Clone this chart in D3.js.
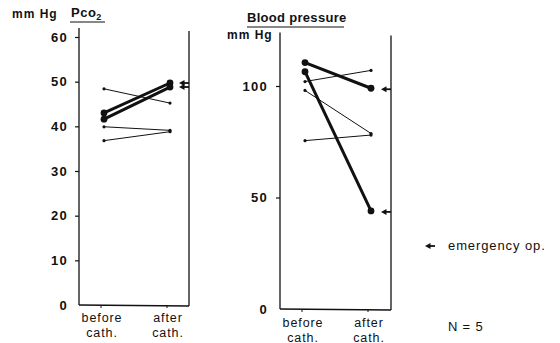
<!DOCTYPE html>
<html>
<head>
<meta charset="utf-8">
<script src="https://cdn.jsdelivr.net/npm/d3@7"></script>
<style>
  body { margin: 0; background: #fff; }
  text { font-family: "Liberation Sans", Arial, sans-serif; fill: #111; }
  .tick text { font-weight: bold; font-size: 13px; letter-spacing: 1.3px; }
</style>
</head>
<body>
<div id="chart"></div>
<script>
// categories on the x axis
var phases = ["before", "after"];
var phaseLabels = [["before", "cath."], ["after", "cath."]];

// Pco2 (mm Hg), one pair per patient
var pco2Before = [48.4, 43.0, 41.6, 39.9, 36.8];
var pco2After  = [45.2, 49.7, 48.8, 39.1, 38.8];
var pco2Emergency = [false, true, true, false, false];
var pco2Ticks = [0, 10, 20, 30, 40, 50, 60];

// blood pressure (mm Hg)
var bpBefore = [110.5, 106.4, 102, 98, 75.5];
var bpAfter  = [99, 44, 107, 78.7, 78];
var bpEmergency = [true, true, false, false, false];
var bpTicks = [0, 50, 100];

var svg = d3.select("#chart").append("svg")
  .attr("width", 560)
  .attr("height", 343);

function drawPanel(cfg){
  var g = svg.append("g");

  var y = d3.scaleLinear().domain([0, cfg.yMax]).range([cfg.bottom, cfg.top]);
  var x = d3.scalePoint().domain(phases).range([cfg.x0, cfg.x1]);

  // frame: left axis line, right line, bottom line
  g.append("line").attr("x1", cfg.left).attr("x2", cfg.left)
    .attr("y1", y(cfg.axisTop)).attr("y2", cfg.bottom)
    .attr("stroke", "#111").attr("stroke-width", 1.3);
  g.append("line").attr("x1", cfg.right).attr("x2", cfg.right)
    .attr("y1", y(cfg.axisTop) + 3).attr("y2", cfg.bottom + 1)
    .attr("stroke", "#111").attr("stroke-width", 1.3);
  g.append("line").attr("x1", cfg.left).attr("x2", cfg.right)
    .attr("y1", cfg.bottom).attr("y2", cfg.bottom + 1)
    .attr("stroke", "#111").attr("stroke-width", 1.5);

  var yAxis = g.append("g")
    .attr("transform", "translate(" + cfg.left + ",0)")
    .call(d3.axisLeft(y).tickValues(cfg.ticks).tickSize(4).tickPadding(cfg.pad).tickFormat(d3.format("d")));
  yAxis.select(".domain").remove();
  yAxis.selectAll(".tick line").attr("stroke", "#111").attr("stroke-width", 1.2);
  yAxis.selectAll(".tick").filter(function(d){ return d === 0; }).select("line").remove();

  // small ticks at the category positions
  g.selectAll(".xt").data(phases).enter().append("line")
    .attr("x1", function(d){ return x(d) - 3; })
    .attr("x2", function(d){ return x(d) - 3; })
    .attr("y1", cfg.bottom).attr("y2", cfg.bottom + 3)
    .attr("stroke", "#111");

  // two-line category labels, one text per line
  [0, 1].forEach(function(row){
    g.selectAll(".xl" + row).data(phaseLabels).enter().append("text")
      .attr("x", function(d, i){ return x(phases[i]) - 2; })
      .attr("y", cfg.bottom + cfg.labelDy + row * 14.5)
      .attr("text-anchor", "middle")
      .style("font-size", "12.5px")
      .style("letter-spacing", "0.9px")
      .text(function(d){ return d[row]; });
  });

  // patient lines
  var pairs = cfg.before.map(function(b, i){
    return {b: b, a: cfg.after[i], em: cfg.emergency[i]};
  });
  g.selectAll(".pl").data(pairs).enter().append("line")
    .attr("x1", x("before")).attr("x2", x("after"))
    .attr("y1", function(d){ return y(d.b); })
    .attr("y2", function(d){ return y(d.a); })
    .attr("stroke", "#111")
    .attr("stroke-width", function(d){ return d.em ? 3 : 1; });

  phases.forEach(function(p){
    g.selectAll(".pt-" + p).data(pairs).enter().append("circle")
      .attr("cx", x(p))
      .attr("cy", function(d){ return y(p == "before" ? d.b : d.a); })
      .attr("r", function(d){ return d.em ? 3.4 : 1.6; })
      .attr("fill", "#111");
  });

  // arrows marking emergency operations
  pairs.filter(function(d){ return d.em; }).forEach(function(d){
    drawArrow(g, x("after") + cfg.arrowDx, y(d.a) + cfg.arrowDy);
  });

  return {x: x, y: y, g: g};
}

function drawArrow(g, x0, y0){
  g.append("line").attr("x1", x0 + 3).attr("x2", x0 + 10)
    .attr("y1", y0).attr("y2", y0)
    .attr("stroke", "#111").attr("stroke-width", 1.8);
  g.append("path")
    .attr("d", "M" + x0 + "," + y0 + "L" + (x0 + 5.5) + "," + (y0 - 3) + "L" + (x0 + 5.5) + "," + (y0 + 3) + "Z")
    .attr("fill", "#111");
}

drawPanel({
  before: pco2Before, after: pco2After, emergency: pco2Emergency,
  ticks: pco2Ticks, yMax: 60, axisTop: 62,
  top: 37, bottom: 305, left: 79, right: 189,
  x0: 104, x1: 170, pad: 7, labelDy: 17,
  arrowDx: 9, arrowDy: 0
});

drawPanel({
  before: bpBefore, after: bpAfter, emergency: bpEmergency,
  ticks: bpTicks, yMax: 100, axisTop: 124,
  top: 86, bottom: 309, left: 280, right: 391,
  x0: 305, x1: 371, pad: 8, labelDy: 18,
  arrowDx: 10, arrowDy: 1
});

// titles
svg.append("text").attr("x", 12).attr("y", 18)
  .style("font-size", "12px").style("font-weight", "bold").style("letter-spacing", "1px")
  .text("mm Hg");
var pco = svg.append("text").attr("x", 71).attr("y", 17)
  .style("font-size", "13px").style("font-weight", "bold").style("letter-spacing", "0.5px");
pco.append("tspan").text("Pco");
pco.append("tspan").attr("dy", 3).style("font-size", "9px").text("2");
svg.append("line").attr("x1", 70).attr("x2", 105).attr("y1", 22).attr("y2", 22)
  .attr("stroke", "#111").attr("stroke-width", 1.2);

svg.append("text").attr("x", 247).attr("y", 22)
  .style("font-size", "13px").style("font-weight", "bold").style("letter-spacing", "0.3px")
  .text("Blood pressure");
svg.append("line").attr("x1", 247).attr("x2", 344).attr("y1", 27).attr("y2", 27)
  .attr("stroke", "#111").attr("stroke-width", 1.2);
svg.append("text").attr("x", 227).attr("y", 39)
  .style("font-size", "12px").style("font-weight", "bold").style("letter-spacing", "1px")
  .text("mm Hg");

// legend
drawArrow(svg, 425, 246);
svg.append("text").attr("x", 448).attr("y", 250)
  .style("font-size", "13px").style("letter-spacing", "0.9px")
  .text("emergency op.");
svg.append("text").attr("x", 448).attr("y", 331)
  .style("font-size", "13px").style("letter-spacing", "0.8px")
  .text("N = 5");
</script>
</body>
</html>
